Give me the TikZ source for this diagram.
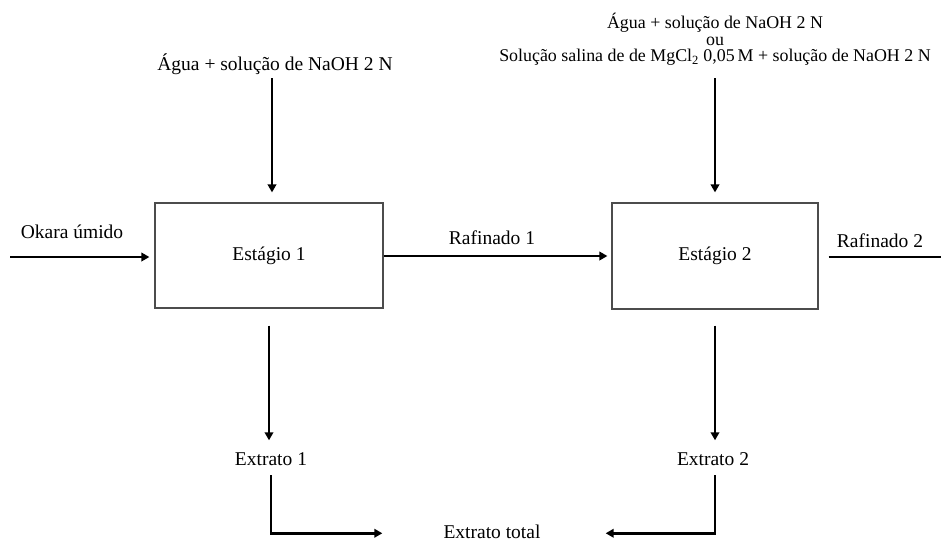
\documentclass[tikz,border=0pt]{standalone}
\usepackage{fontspec}
\setmainfont{Liberation Serif}
\usetikzlibrary{arrows.meta}
\begin{document}
\begin{tikzpicture}[x=1pt,y=-1pt,
  lbl/.style={inner sep=0pt, font=\fontsize{19.5}{21}\selectfont,
              text height=13.5pt, text depth=4pt, anchor=base},
  stagebox/.style={draw=black!70, line width=1.2pt, inner sep=0pt,
              font=\fontsize{19.5}{21}\selectfont},
  flow/.style={line width=2.5pt, -{Triangle[length=8pt,width=8.5pt]}},
  flowline/.style={line width=2.5pt}]
\useasboundingbox (0,0) rectangle (941,542);

% process stages
\node[stagebox, minimum width=228pt, minimum height=105pt] (s1) at (269,255.5) {Estágio 1};
\node[stagebox, minimum width=206pt, minimum height=106pt] (s2) at (715,256) {Estágio 2};

% feed labels
\node[lbl] (feed1) at (275,70) {Água + solução de NaOH 2 N};
\node[inner sep=0pt, anchor=south, align=center,
      font=\fontsize{17.9}{16.8}\selectfont] (feed2) at (715,66)
  {Água + solução de NaOH 2 N\\ou\\Solução salina de de MgCl\textsubscript{2} 0,05\,M + solução de NaOH 2 N};

% stream labels
\node[lbl] (okara) at (72,238) {Okara úmido};
\node[lbl] (raf1) at (492,244) {Rafinado 1};
\node[lbl] (raf2) at (880,247) {Rafinado 2};
\node[lbl] (ext1) at (271,465) {Extrato 1};
\node[lbl] (ext2) at (713,465) {Extrato 2};
\node[lbl] (tot) at (492,538) {Extrato total};

% free ends
\coordinate (in0) at (10,257);
\coordinate (out2) at (941,257);

% feeds into the stages
\draw[flow, shorten <=4pt, shorten >=10pt] (feed1.south -| s1.north) ++(3,0) coordinate (f1a) -- (f1a |- s1.north);
\draw[flow, shorten <=12pt, shorten >=10pt] (feed2.south -| s2.north) -- (s2.north);
\draw[flow, shorten >=5pt] (in0) -- (in0 -| s1.west);

% raffinate streams
\draw[flow, shorten >=4pt] (s1.east |- s2.west) -- (s2.west);
\draw[flowline, shorten <=10pt] (s2.east |- out2) -- (out2);

% extracts leaving the stages
\draw[flow, shorten <=17pt, shorten >=11pt] (s1.south) -- (ext1.north -| s1.south);
\draw[flow, shorten <=16pt, shorten >=11pt] (s2.south) -- (ext2.north -| s2.south);

% combined extract
\draw[flow, shorten <=6pt, shorten >=61pt] (ext1.south) |- (tot.west);
\draw[flow, shorten <=6pt, shorten >=65pt] (ext2.south -| s2.south) |- (tot.east);
\end{tikzpicture}
\end{document}
